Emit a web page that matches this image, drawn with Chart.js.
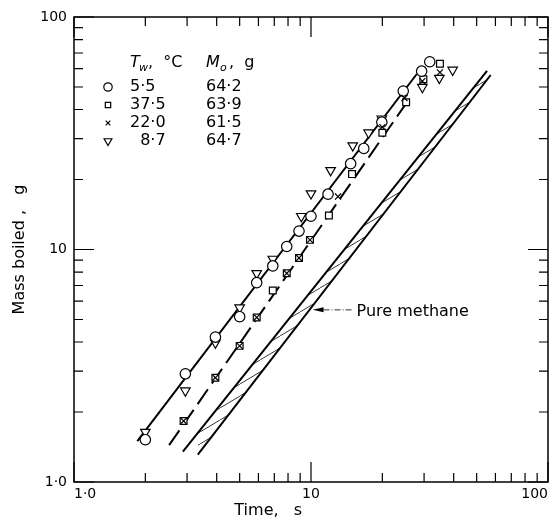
<!DOCTYPE html>
<html>
<head>
<meta charset="utf-8">
<script src="https://cdn.jsdelivr.net/npm/chart.js@4.4.1/dist/chart.umd.min.js"></script>
<style>
html, body { margin: 0; padding: 0; background: #fff; }
</style>
</head>
<body>
<canvas id="massChart" width="560" height="524"></canvas>
<script>
// time (s) / mass boiled (g)
const t55 = [2, 2.95, 3.95, 5, 5.9, 6.9, 7.9, 8.9, 10, 11.8, 14.7, 16.7, 19.9, 24.5, 29.3, 31.7];
const m55 = [1.52, 2.92, 4.2, 5.14, 7.2, 8.5, 10.3, 12.0, 13.9, 17.3, 23.4, 27.2, 35.3, 48, 58.5, 64.2];
const t375 = [2.9, 3.95, 5, 5.9, 6.9, 7.9, 8.9, 9.9, 11.9, 14.9, 20, 25.2, 29.8, 35];
const m375 = [1.83, 2.81, 3.85, 5.1, 6.66, 7.9, 9.2, 11.0, 14.0, 21.1, 31.8, 43, 54, 62.9];
const t220 = [2.9, 3.95, 5, 5.9, 7.9, 8.9, 9.9, 13, 20, 24.8, 29.5, 35];
const m220 = [1.83, 2.81, 3.85, 5.1, 7.9, 9.2, 11.0, 16.9, 33.6, 44.8, 53, 57.8];
const t87 = [2, 2.95, 3.95, 5, 5.9, 6.9, 9.1, 10, 12.1, 15, 17.5, 19.9, 29.5, 34.8, 39.6];
const m87 = [1.64, 2.47, 3.97, 5.62, 7.9, 9.1, 13.9, 17.4, 21.9, 28.0, 31.8, 36.5, 49.9, 54.6, 59.2];

// fitted lines
const fitT55 = [1.85, 28];   const fitM55 = [1.5, 57];
const fitT375 = [2.52, 25];  const fitM375 = [1.44, 42];
// pure methane band edges
const pureLoT = [2.88, 55.3]; const pureLoM = [1.35, 58.6];
const pureHiT = [3.33, 57.3]; const pureHiM = [1.31, 56.3];

const legendTw = ['5·5', '37·5', '22·0', '\u20078·7'];
const legendMo = ['64·2', '63·9', '61·5', '64·7'];
const majorTicks = [1, 10, 100];
const minorTicks = [2, 3, 4, 5, 6, 7, 8, 9, 20, 30, 40, 50, 60, 70, 80, 90];
const tickText = { 1: '1·0', 10: '10', 100: '100' };

const FONT = "'DejaVu Sans', sans-serif";
const pts = (xs, ys) => xs.map((x, i) => ({ x: x, y: ys[i] }));

function hatch() {
    const c = document.createElement('canvas');
    c.width = 20; c.height = 12;
    const g = c.getContext('2d');
    g.strokeStyle = '#222'; g.lineWidth = 0.9;
    [-20, 0, 20].forEach(dx => { g.beginPath(); g.moveTo(dx, 12); g.lineTo(dx + 20, 0); g.stroke(); });
    return g.createPattern(c, 'repeat');
}

const markerStyles = [
    { pointStyle: 'circle', radius: 5.2, rotation: 0, order: 0 },
    { pointStyle: 'rect', radius: 4.8, rotation: 0, order: 0 },
    { pointStyle: 'crossRot', radius: 4.3, rotation: 0, order: -1 },
    { pointStyle: 'triangle', radius: 5.5, rotation: 180, order: 0 }
];

function markerSet(xs, ys, st) {
    return { data: pts(xs, ys), showLine: false, order: st.order, pointStyle: st.pointStyle, pointRadius: st.radius,
        pointRotation: st.rotation, pointBorderWidth: 1.2, pointBorderColor: '#000', pointBackgroundColor: '#fff' };
}
function lineSet(xs, ys, extra) {
    return Object.assign({ data: pts(xs, ys), showLine: true, pointRadius: 0, borderColor: '#000',
        borderWidth: 2, fill: false, order: 2 }, extra || {});
}

// box + inward ticks on all four sides
const frame = {
    id: 'frame',
    afterDatasetsDraw(chart) {
        const { ctx, chartArea: a, scales: { x, y } } = chart;
        ctx.save();
        ctx.strokeStyle = '#000';
        ctx.lineWidth = 1.5;
        ctx.strokeRect(a.left, a.top, a.right - a.left, a.bottom - a.top);
        ctx.lineWidth = 1.2;
        const tk = (vals, len) => vals.forEach(v => {
            const px = x.getPixelForValue(v), py = y.getPixelForValue(v);
            ctx.beginPath();
            ctx.moveTo(px, a.bottom); ctx.lineTo(px, a.bottom - len);
            ctx.moveTo(px, a.top); ctx.lineTo(px, a.top + len);
            ctx.moveTo(a.left, py); ctx.lineTo(a.left + len, py);
            ctx.moveTo(a.right, py); ctx.lineTo(a.right - len, py);
            ctx.stroke();
        });
        tk(minorTicks, 9);
        tk(majorTicks, 20);
        ctx.restore();
    }
};

// the T_w / M_o table in the corner
const legendBox = {
    id: 'legendBox',
    afterDraw(chart) {
        const { ctx, chartArea: a } = chart;
        const mx = a.left + 34, c1 = a.left + 56, c2 = a.left + 132, top = a.top + 46;
        ctx.save();
        ctx.fillStyle = '#000';
        ctx.textBaseline = 'middle';
        ctx.font = 'italic 16px ' + FONT;
        ctx.fillText('T', c1, top);
        ctx.fillText('M', c2, top);
        ctx.font = 'italic 11px ' + FONT;
        ctx.fillText('w', c1 + 9, top + 5);
        ctx.fillText('o', c2 + 14, top + 5);
        ctx.font = '16px ' + FONT;
        ctx.fillText(',  °C', c1 + 18, top);
        ctx.fillText(',  g', c2 + 23, top);
        legendTw.forEach((s, i) => {
            const yy = top + 24 + i * 18;
            ctx.fillText(s, c1, yy);
            ctx.fillText(legendMo[i], c2, yy);
            ctx.fillStyle = '#fff'; ctx.strokeStyle = '#000'; ctx.lineWidth = 1.2;
            Chart.helpers.drawPoint(ctx, { pointStyle: markerStyles[i].pointStyle, radius: markerStyles[i].radius - 1,
                rotation: markerStyles[i].rotation, borderWidth: 1.2 }, mx, yy);
            ctx.fillStyle = '#000';
        });
        ctx.restore();
    }
};

// "Pure methane" arrow onto the band, plus the x-axis title (set left of centre as printed)
function xOnLine(xs, ys, yv) {
    const L = Math.log10;
    const t = (L(yv) - L(ys[0])) / (L(ys[1]) - L(ys[0]));
    return Math.pow(10, L(xs[0]) + t * (L(xs[1]) - L(xs[0])));
}
const note = {
    id: 'note',
    afterDraw(chart) {
        const { ctx, scales: { x, y } } = chart;
        const px = x.getPixelForValue(xOnLine(pureHiT, pureHiM, 5.5)) + 3;
        const py = y.getPixelForValue(5.5);
        ctx.save();
        ctx.fillStyle = '#000';
        ctx.beginPath();
        ctx.moveTo(px, py); ctx.lineTo(px + 11, py - 2.5); ctx.lineTo(px + 11, py + 2.5); ctx.closePath();
        ctx.fill();
        ctx.strokeStyle = '#000'; ctx.lineWidth = 0.8;
        ctx.setLineDash([6, 2, 1, 2]);
        ctx.beginPath(); ctx.moveTo(px + 11, py); ctx.lineTo(px + 40, py); ctx.stroke();
        ctx.setLineDash([]);
        ctx.font = '16px ' + FONT;
        ctx.textBaseline = 'middle';
        ctx.fillText('Pure methane', px + 44, py + 2);

        ctx.font = '16px ' + FONT;
        ctx.textAlign = 'center';
        ctx.fillText('Time,   s', x.getPixelForValue(6.6), 511);
        ctx.restore();
    }
};

new Chart(document.getElementById('massChart'), {
    type: 'scatter',
    data: {
        datasets: [
            markerSet(t55, m55, markerStyles[0]),
            markerSet(t375, m375, markerStyles[1]),
            markerSet(t220, m220, markerStyles[2]),
            markerSet(t87, m87, markerStyles[3]),
            lineSet(fitT55, fitM55),
            lineSet(fitT375, fitM375, { borderDash: [18, 7] }),
            lineSet(pureLoT, pureLoM),
            lineSet(pureHiT, pureHiM, { fill: '-1', backgroundColor: hatch() })
        ]
    },
    options: {
        responsive: false,
        animation: false,
        layout: { padding: { top: 17, right: 12, left: 0, bottom: 0 } },
        plugins: { legend: { display: false }, tooltip: { enabled: false } },
        scales: {
            x: {
                type: 'logarithmic', min: 1, max: 100,
                afterBuildTicks: s => { s.ticks = majorTicks.map(v => ({ value: v })); },
                afterFit: s => { s.height = 42; },
                grid: { display: false, drawTicks: false },
                border: { display: false },
                ticks: { align: 'inner', padding: 4, maxRotation: 0, color: '#000',
                    font: { family: FONT, size: 14 }, callback: v => tickText[v] || '' }
            },
            y: {
                type: 'logarithmic', min: 1, max: 100,
                afterBuildTicks: s => { s.ticks = majorTicks.map(v => ({ value: v })); },
                afterFit: s => { s.width = 74; },
                grid: { display: false, drawTicks: false },
                border: { display: false },
                ticks: { padding: 7, color: '#000', font: { family: FONT, size: 14 },
                    callback: v => tickText[v] || '' },
                title: { display: true, text: 'Mass boiled ,   g', color: '#000',
                    font: { family: FONT, size: 16 }, padding: { top: 10, bottom: 0 } }
            }
        }
    },
    plugins: [frame, legendBox, note]
});
</script>
</body>
</html>
